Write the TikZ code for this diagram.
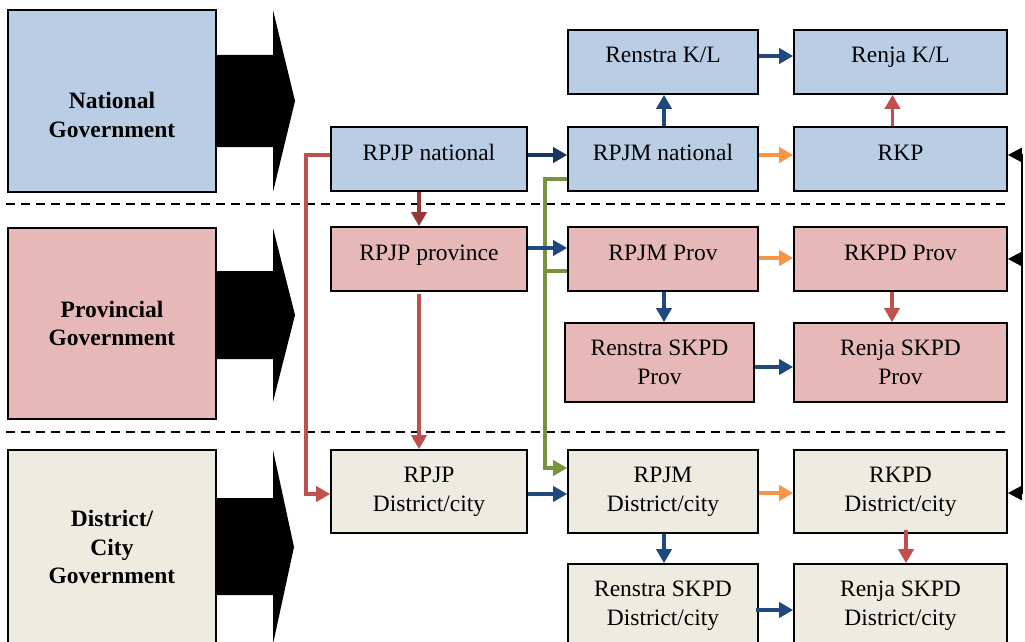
\documentclass[tikz,border=0pt]{standalone}
\usepackage{fontspec}
\setmainfont{Liberation Serif}
\usetikzlibrary{arrows.meta,calc}
\definecolor{natfill}{HTML}{B9CDE5}
\definecolor{provfill}{HTML}{E6B9B8}
\definecolor{distfill}{HTML}{EEECE1}
\definecolor{cblue}{HTML}{1F497D}
\definecolor{cnavy}{HTML}{17375E}
\definecolor{cred}{HTML}{C0504D}
\definecolor{cdred}{HTML}{953735}
\definecolor{corange}{HTML}{F79646}
\definecolor{cgreen}{HTML}{77933C}
\begin{document}
\begin{tikzpicture}[x=1pt,y=-1pt,
  box/.style={draw=black, line width=1.6pt, inner sep=0pt, align=center,
    font=\fontsize{23.5}{29}\selectfont},
  nat/.style={box, fill=natfill},
  prov/.style={box, fill=provfill},
  dist/.style={box, fill=distfill},
  one/.style={text height=16pt, text depth=14pt},
  lvl/.style={inner sep=0pt, align=center, font=\fontsize{23.5}{28.5}\selectfont\bfseries},
  conn/.style={line width=3.8pt, -{Triangle[length=14pt,width=15pt]}},
  bconn/.style={conn, draw=cblue},
  rconn/.style={conn, draw=cred},
  oconn/.style={conn, draw=corange},
  kconn/.style={line width=2.5pt, draw=black, -{Triangle[length=14pt,width=14pt]}},
  sep/.style={line width=1.6pt, dash pattern=on 9pt off 6pt},
  bigarrow/.style={fill=black}
]
\useasboundingbox (0,0) rectangle (1025,642);
\fill[white] (0,0) rectangle (1025,642);

% dashed separators
\draw[sep] (6,204) -- (1008,204);
\draw[sep] (6,432) -- (1008,432);

% left level boxes
\node[nat, minimum width=208pt, minimum height=182pt] (natL) at (112,101) {};
\node[prov, minimum width=208pt, minimum height=191pt] (provL) at (112,323.5) {};
\node[dist, minimum width=208pt, minimum height=194pt] (distL) at (112,547) {};
\node[lvl] (natT) at (112,115) {National\\Government};
\node[lvl] (provT) at (112,323.5) {Provincial\\Government};
\node[lvl] (distT) at (112,547) {District/\\City\\Government};

% big black arrows
\fill[bigarrow] (216,55) -- (273,55) -- (273,10) -- (295,101) -- (273,192) -- (273,147) -- (216,147) -- cycle;
\fill[bigarrow] (216,271) -- (273,271) -- (273,228) -- (295,315) -- (273,402) -- (273,359) -- (216,359) -- cycle;
\fill[bigarrow] (216,498) -- (273,498) -- (273,450) -- (294,547) -- (273,644) -- (273,595) -- (216,595) -- cycle;

% RPJP column
\node[nat, one, minimum width=196pt, minimum height=64pt] (rpjpN) at (429,159) {RPJP national};
\node[prov, one, minimum width=196pt, minimum height=64pt] (rpjpP) at (429,259) {RPJP province};
\node[dist, minimum width=196pt, minimum height=83pt] (rpjpD) at (429,491.5) {RPJP\\District/city};

% RPJM / Renstra column
\node[nat, one, minimum width=190pt, minimum height=64pt] (renstraKL) at (663,62) {Renstra K/L};
\node[nat, one, minimum width=190pt, minimum height=64pt] (rpjmN) at (663,159) {RPJM national};
\node[prov, one, minimum width=190pt, minimum height=64pt] (rpjmP) at (663,259) {RPJM Prov};
\node[prov, minimum width=189pt, minimum height=79pt] (renstraP) at (659.5,362.5) {Renstra SKPD\\Prov};
\node[dist, minimum width=190pt, minimum height=83pt] (rpjmD) at (663,491.5) {RPJM\\District/city};
\node[dist, minimum width=190pt, minimum height=83pt] (renstraD) at (663,605.5) {Renstra SKPD\\District/city};

% RKP / Renja column
\node[nat, one, minimum width=213pt, minimum height=64pt] (renjaKL) at (900.5,62) {Renja K/L};
\node[nat, one, minimum width=213pt, minimum height=64pt] (rkp) at (900.5,159) {RKP};
\node[prov, one, minimum width=213pt, minimum height=64pt] (rkpdP) at (900.5,259) {RKPD Prov};
\node[prov, minimum width=213pt, minimum height=79pt] (renjaP) at (900.5,362.5) {Renja SKPD\\Prov};
\node[dist, minimum width=213pt, minimum height=83pt] (rkpdD) at (900.5,491.5) {RKPD\\District/city};
\node[dist, minimum width=213pt, minimum height=83pt] (renjaD) at (900.5,605.5) {Renja SKPD\\District/city};

% red path RPJP national -> RPJP district
\draw[rconn] ([yshift=4pt]rpjpN.west) -- ++(-24,0) |- ([yshift=-2.5pt]rpjpD.west);
% RPJP vertical
\draw[conn, draw=cdred] ([xshift=-10pt]rpjpN.south) -- ([xshift=-10pt]rpjpP.north);
\draw[rconn] ([xshift=-10pt,yshift=-2pt]rpjpP.south) -- ([xshift=-10pt]rpjpD.north);

% green path
\draw[conn, draw=cgreen] ([yshift=-20pt]rpjmN.west) -- ++(-22,0) |- ([yshift=23.5pt]rpjmD.west);
\draw[line width=3.8pt, cgreen] ([yshift=-12pt]rpjmP.west) -- ++(-22,0);

% RPJP -> RPJM
\draw[conn, draw=cnavy] ([yshift=4pt]rpjpN.east) -- ([yshift=4pt]rpjmN.west);
\draw[bconn] ([yshift=11pt]rpjpP.east) -- ([yshift=11pt]rpjmP.west);
\draw[bconn] ([yshift=-2.5pt]rpjpD.east) -- ([yshift=-2.5pt]rpjmD.west);

% national row
\draw[bconn] ([xshift=1pt]rpjmN.north) -- ([xshift=1pt]renstraKL.south);
\draw[bconn] ([yshift=6pt]renstraKL.east) -- ([yshift=6pt]renjaKL.west);
\draw[oconn] ([yshift=4pt]rpjmN.east) -- ([yshift=4pt]rkp.west);
\draw[rconn] ([xshift=-8pt]rkp.north) -- ([xshift=-8pt]renjaKL.south);

% provincial rows
\draw[oconn] ([yshift=1pt]rpjmP.east) -- ([yshift=1pt]rkpdP.west);
\draw[bconn] ([xshift=1pt]rpjmP.south) -- ([xshift=1pt]rpjmP.south |- renstraP.north);
\draw[rconn] ([xshift=-8.5pt]rkpdP.south) -- ([xshift=-8.5pt]renjaP.north);
\draw[bconn] ([yshift=-4.5pt]renstraP.east) -- ([yshift=-4.5pt]renjaP.west);

% district rows
\draw[oconn] ([yshift=-1.5pt]rpjmD.east) -- ([yshift=-1.5pt]rkpdD.west);
\draw[bconn] ([xshift=1pt]rpjmD.south) -- ([xshift=1pt]renstraD.north);
\draw[rconn] ([xshift=5.5pt,yshift=4pt]rkpdD.south) -- ([xshift=5.5pt]renjaD.north);
\draw[bconn] ([yshift=-4.5pt,xshift=-3pt]renstraD.east) -- ([yshift=-4.5pt]renjaD.west);

% right bracket
\coordinate (bt) at (1022,155);
\coordinate (bb) at (1022,493);
\draw[line width=2.5pt] ([yshift=1.25pt]bt) -- ([yshift=-1.25pt]bb);
\draw[kconn] (bt) -- (rkp.east |- bt);
\draw[kconn] (bt |- rkpdP.east) -- (rkpdP.east);
\draw[kconn] (bb) -- (rkpdD.east |- bb);
\end{tikzpicture}
\end{document}
